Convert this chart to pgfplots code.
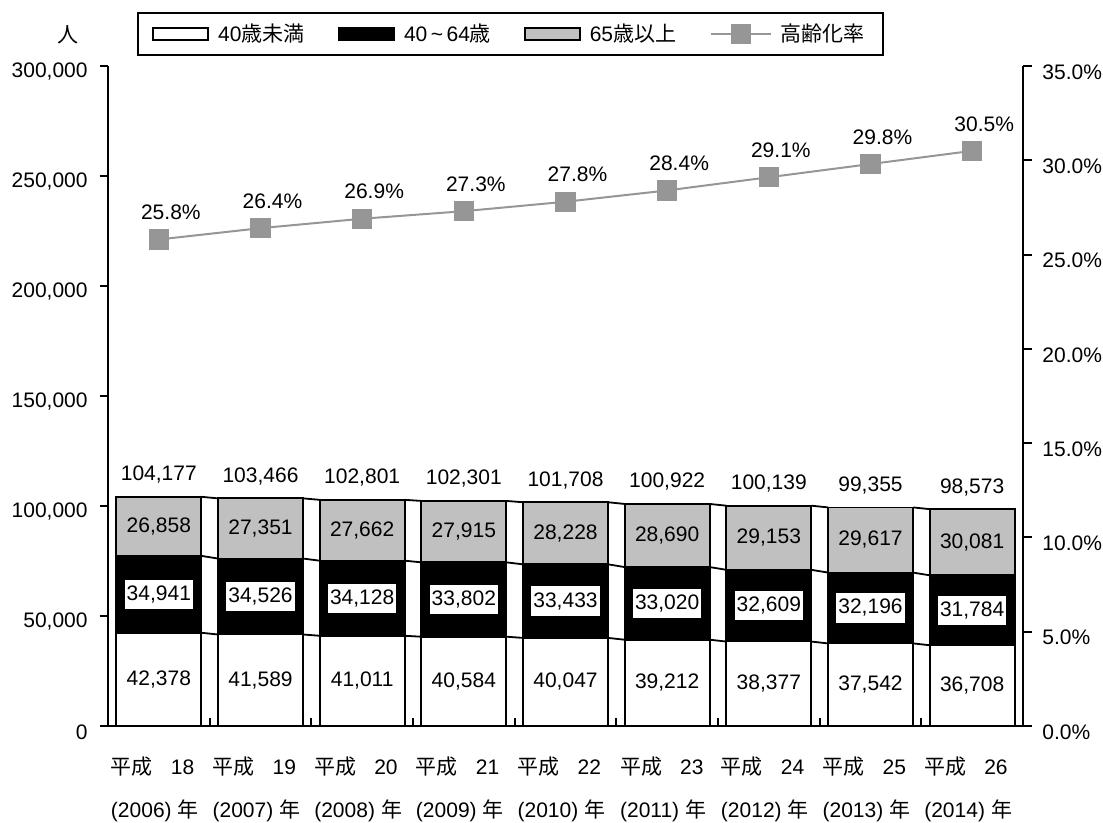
\documentclass[border=0pt]{standalone}
\usepackage{fontspec}
\setmainfont{Liberation Sans}
\newfontfamily\cjk{Noto Sans CJK JP}
\usepackage{pgfplots}
\usepackage{pgfplotstable}
\pgfplotsset{compat=1.18}

\definecolor{barGray}{RGB}{192,192,192}
\definecolor{lineGray}{RGB}{150,150,150}

\pgfplotsset{
  /pgf/number format/assume math mode=true,
  /pgf/number format/fixed,
  /pgf/number format/1000 sep={,},
  legbox/.style={legend image code/.code={%
      \draw[##1,line width=0.9pt] (0pt,-3pt) rectangle (27.5pt,3pt);}},
  legline/.style={legend image code/.code={%
      \draw[mark repeat=2,mark phase=2,##1] plot coordinates {(0pt,0pt) (15pt,0pt) (30pt,0pt)};}},
  seriesline/.style={black, line width=0.9pt, forget plot},
  segbar/.style={ybar, bar width=42.5pt, bar shift=0pt, draw=black, line width=0.9pt, forget plot},
  seglabel/.style={draw=none, mark=none, forget plot,
      nodes near coords={\pgfmathprintnumber[fixed,precision=0]{\pgfplotspointmeta}},
      every node near coord/.append style={anchor=center, text=black}},
}
\newcommand\legtext[1]{\makebox[48pt][l]{#1}}

% population by age group (a: under 40, b: 40-64, c: 65 and over), r: ageing rate in %
\pgfplotstableread{
x a     b     c     r
0 42378 34941 26858 25.8
1 41589 34526 27351 26.4
2 41011 34128 27662 26.9
3 40584 33802 27915 27.3
4 40047 33433 28228 27.8
5 39212 33020 28690 28.4
6 38377 32609 29153 29.1
7 37542 32196 29617 29.8
8 36708 31784 30081 30.5
}\data
% cumulative levels and segment midpoints
\pgfplotstablecreatecol[expr={\thisrow{a}+\thisrow{b}}]{s2}\data
\pgfplotstablecreatecol[expr={\thisrow{a}+\thisrow{b}+\thisrow{c}}]{s3}\data
\pgfplotstablecreatecol[expr={\thisrow{a}/2}]{m1}\data
\pgfplotstablecreatecol[expr={\thisrow{a}+\thisrow{b}/2}]{m2}\data
\pgfplotstablecreatecol[expr={\thisrow{a}+\thisrow{b}+\thisrow{c}/2}]{m3}\data

\begin{document}
\fontsize{10.5}{12.6}\selectfont
\begin{tikzpicture}
\useasboundingbox (-54pt,-48.5pt) rectangle (497.5pt,363pt);

\begin{axis}[
  scale only axis, width=457.5pt, height=330pt,
  xmin=-0.5, xmax=8.5, ymin=0, ymax=300000,
  axis x line*=bottom, axis y line*=left,
  axis line style={line width=1pt, black},
  tick align=outside,
  major tick length=4pt, minor tick length=4pt,
  tick style={line width=1pt, black},
  ytick={0,50000,100000,150000,200000,250000,300000},
  scaled y ticks=false,
  yticklabel={\pgfmathprintnumber[fixed,precision=0]{\tick}},
  yticklabel style={xshift=-2.5pt, yshift=-3pt},
  xtick={0,1,2,3,4,5,6,7,8},
  xticklabels={
    {{\cjk 平成}\hspace{9pt}18\\(2006)\hspace{3pt}{\cjk 年}},
    {{\cjk 平成}\hspace{9pt}19\\(2007)\hspace{3pt}{\cjk 年}},
    {{\cjk 平成}\hspace{9pt}20\\(2008)\hspace{3pt}{\cjk 年}},
    {{\cjk 平成}\hspace{9pt}21\\(2009)\hspace{3pt}{\cjk 年}},
    {{\cjk 平成}\hspace{9pt}22\\(2010)\hspace{3pt}{\cjk 年}},
    {{\cjk 平成}\hspace{9pt}23\\(2011)\hspace{3pt}{\cjk 年}},
    {{\cjk 平成}\hspace{9pt}24\\(2012)\hspace{3pt}{\cjk 年}},
    {{\cjk 平成}\hspace{9pt}25\\(2013)\hspace{3pt}{\cjk 年}},
    {{\cjk 平成}\hspace{9pt}26\\(2014)\hspace{3pt}{\cjk 年}}},
  xticklabel style={align=left, anchor=north, font=\fontsize{10.5}{21.5}\selectfont,
                    xshift=-2pt, yshift=-7.5pt},
  major x tick style={draw=none},
  minor xtick={0.5,1.5,2.5,3.5,4.5,5.5,6.5,7.5},
  minor x tick style={yshift=4pt},
  ylabel={{\cjk 人}},
  ylabel style={rotate=-90, at={(axis description cs:-0.0437,1.047)}, anchor=center},
  clip=false,
]
% stacked bars drawn as overlapping cumulative bars
\addplot[segbar, fill=barGray] table[x=x, y=s3]{\data};
\addplot[segbar, fill=black]   table[x=x, y=s2]{\data};
\addplot[segbar, fill=white]   table[x=x, y=a]{\data};

% series lines joining the segment boundaries of neighbouring bars
\pgfplotsinvokeforeach{0,...,7}{%
  \pgfplotstablegetelem{#1}{a}\of\data\edef\la{\pgfplotsretval}%
  \pgfplotstablegetelem{#1}{b}\of\data\edef\lb{\pgfplotsretval}%
  \pgfplotstablegetelem{#1}{c}\of\data\edef\lc{\pgfplotsretval}%
  \pgfmathtruncatemacro\nx{#1+1}%
  \pgfplotstablegetelem{\nx}{a}\of\data\edef\ra{\pgfplotsretval}%
  \pgfplotstablegetelem{\nx}{b}\of\data\edef\rb{\pgfplotsretval}%
  \pgfplotstablegetelem{\nx}{c}\of\data\edef\rc{\pgfplotsretval}%
  \pgfmathsetmacro\xl{#1+0.418}%
  \pgfmathsetmacro\xr{#1+0.582}%
  \edef\tmp{%
    \noexpand\addplot[seriesline] coordinates {(\xl,\la) (\xr,\ra)};
    \noexpand\addplot[seriesline] coordinates {(\xl,\the\numexpr\la+\lb\relax) (\xr,\the\numexpr\ra+\rb\relax)};
    \noexpand\addplot[seriesline] coordinates {(\xl,\the\numexpr\la+\lb+\lc\relax) (\xr,\the\numexpr\ra+\rb+\rc\relax)};
  }\tmp
}

% segment values
\addplot[seglabel, point meta=\thisrow{a}] table[x=x, y=m1]{\data};
\addplot[seglabel, point meta=\thisrow{b},
  every node near coord/.append style={fill=white, inner xsep=1pt, inner ysep=3pt}]
  table[x=x, y=m2]{\data};
\addplot[seglabel, point meta=\thisrow{c}] table[x=x, y=m3]{\data};
% totals
\addplot[seglabel, point meta=\thisrow{s3},
  every node near coord/.append style={yshift=11pt}] table[x=x, y=s3]{\data};
\end{axis}

\begin{axis}[
  scale only axis, width=457.5pt, height=330pt,
  xmin=-0.5, xmax=8.5, ymin=0, ymax=35,
  axis x line=none, axis y line*=right,
  axis line style={line width=1pt, black},
  tick align=outside, major tick length=4.5pt,
  tick style={line width=1pt, black},
  ytick={0,5,10,15,20,25,30,35},
  yticklabel={\pgfmathprintnumber[fixed,fixed zerofill,precision=1]{\tick}\%},
  yticklabel style={xshift=1.5pt, yshift=-3pt},
  clip=false,
  legend columns=4,
  legend cell align=left,
  legend style={at={(0.44,1.0485)}, anchor=center, draw=black, line width=1pt,
    font=\fontsize{10.5}{12.6}\selectfont, inner xsep=7pt, inner ysep=3.5pt,
    /tikz/every odd column/.append style={column sep=2.5pt},
    /tikz/every even column/.append style={column sep=10pt}},
]
\addlegendimage{legbox, fill=white, draw=black}
\addlegendentry{\legtext{40{\cjk 歳未満}}}
\addlegendimage{legbox, fill=black, draw=black}
\addlegendentry{\legtext{40\,\textasciitilde\,64{\cjk 歳}}}
\addlegendimage{legbox, fill=barGray, draw=black}
\addlegendentry{\legtext{65{\cjk 歳以上}}}

\addplot[legline, lineGray, line width=1pt, mark=square*, mark size=4.8pt,
  mark options={fill=lineGray, draw=lineGray, line width=0pt},
  point meta=y,
  nodes near coords={\pgfmathprintnumber[fixed,precision=1,fixed zerofill]{\pgfplotspointmeta}\%},
  every node near coord/.append style={anchor=center, text=black, xshift=6pt, yshift=13.5pt}]
  table[x=x, y=r]{\data};
\addlegendentry{{\cjk 高齢化率}}
\end{axis}
\end{tikzpicture}
\end{document}
